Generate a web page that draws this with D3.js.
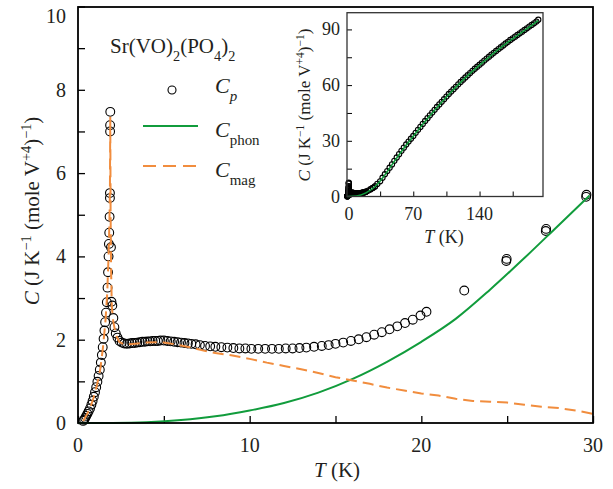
<!DOCTYPE html>
<html>
<head>
<meta charset="utf-8">
<script src="https://cdn.jsdelivr.net/npm/d3@7"></script>
</head>
<body style="margin:0">
<script>
// measured heat capacity, low T (K, J/K/mol)
var cpT = [0.30, 0.36, 0.42, 0.48, 0.55, 0.62, 0.70, 0.78, 0.85, 0.92, 0.99, 1.06, 1.13, 1.20, 1.27,
  1.33, 1.39, 1.44, 1.49, 1.54, 1.58, 1.63, 1.68, 1.72, 1.75, 1.78, 1.80, 1.82, 1.84, 1.86, 1.86,
  1.87, 1.87, 1.88, 1.92, 1.95, 2.00, 2.06, 2.12, 2.20, 2.30, 2.42, 2.55, 2.70, 2.85, 3.00, 3.15,
  3.30, 3.45, 3.60, 3.75, 3.90, 4.05, 4.20, 4.35, 4.50, 4.65, 4.80, 5.00, 5.20, 5.40, 5.60, 5.80,
  6.00, 6.20, 6.40, 6.60, 6.85, 7.10, 7.40, 7.70, 8.00, 8.35, 8.70, 9.05, 9.40, 9.75, 10.1, 10.5,
  10.9, 11.3, 11.7, 12.1, 12.5, 12.9, 13.3, 13.75, 14.2, 14.6, 15.0, 15.45, 15.9, 16.35, 16.8,
  17.25, 17.7, 18.15, 18.6, 19.05, 19.5, 19.95, 20.3, 22.5, 24.95, 24.97, 27.25, 27.27, 29.6, 29.62];
var cpC = [0.05, 0.08, 0.12, 0.17, 0.22, 0.28, 0.35, 0.44, 0.53, 0.63, 0.74, 0.86, 0.99, 1.13, 1.28,
  1.45, 1.63, 1.82, 2.02, 2.22, 2.42, 2.65, 2.90, 3.25, 3.62, 4.00, 4.30, 4.57, 4.95, 5.40, 5.52,
  7.00, 7.15, 7.47, 4.22, 2.91, 2.82, 2.52, 2.30, 2.15, 2.05, 1.97, 1.93, 1.91, 1.90, 1.91, 1.92,
  1.92, 1.93, 1.94, 1.95, 1.95, 1.96, 1.96, 1.97, 1.97, 1.97, 1.98, 1.98, 1.97, 1.96, 1.95, 1.94,
  1.93, 1.92, 1.91, 1.90, 1.89, 1.87, 1.85, 1.84, 1.83, 1.82, 1.81, 1.80, 1.79, 1.79, 1.78, 1.78,
  1.78, 1.78, 1.78, 1.79, 1.79, 1.80, 1.81, 1.83, 1.85, 1.87, 1.90, 1.93, 1.97, 2.01, 2.06,
  2.12, 2.18, 2.25, 2.32, 2.40, 2.48, 2.58, 2.67, 3.18, 3.89, 3.94, 4.61, 4.66, 5.43, 5.48];

// phonon contribution
var phonT = [0, 2, 4, 6, 8, 10, 12, 14, 16, 18, 20, 22, 24, 26, 28, 29.8];
var phonC = [0, 0.003, 0.02, 0.07, 0.16, 0.3, 0.48, 0.73, 1.06, 1.47, 1.95, 2.5, 3.2, 3.96, 4.75, 5.46];

// magnetic contribution
var magT = [0.3, 0.5, 0.7, 0.9, 1.1, 1.3, 1.45, 1.6, 1.7, 1.78, 1.83, 1.86, 1.88, 1.9, 1.93, 1.97,
  2.05, 2.2, 2.4, 2.7, 3.0, 3.5, 4.0, 4.5, 5.0, 5.5, 6.0, 6.5, 7.0, 7.5, 8.0, 9.0, 10, 11, 12, 13,
  14, 15, 16, 17, 18, 19, 20, 21, 22, 23, 24, 25, 26, 27, 28, 29, 30];
var magC = [0.05, 0.19, 0.35, 0.6, 0.9, 1.3, 1.8, 2.45, 3.1, 4.0, 4.8, 5.6, 7.35, 5.0, 3.6, 2.8,
  2.45, 2.12, 1.95, 1.88, 1.89, 1.91, 1.93, 1.94, 1.93, 1.9, 1.86, 1.82, 1.77, 1.72, 1.68, 1.62,
  1.54, 1.45, 1.37, 1.29, 1.2, 1.1, 1.02, 0.94, 0.85, 0.78, 0.71, 0.66, 0.58, 0.53, 0.51, 0.49,
  0.44, 0.39, 0.36, 0.3, 0.22];

// inset: high T data
var hiT = [32, 35, 37.5, 40, 42.5, 45, 47.5, 50, 52.5, 55, 57.5, 60, 62.5, 65, 67.5, 70, 72.5, 75,
  77.5, 80, 82.5, 85, 87.5, 90, 92.5, 95, 97.5, 100, 102.5, 105, 107.5, 110, 112.5, 115, 117.5, 120,
  122.5, 125, 127.5, 130, 132.5, 135, 137.5, 140, 142.5, 145, 147.5, 150, 152.5, 155, 157.5, 160,
  162.5, 165, 167.5, 170, 172.5, 175, 177.5, 180, 182.5, 185, 187.5, 190, 192.5, 195, 197.5, 200, 202];
var hiC = [6.8, 8.2, 10.1, 12.0, 13.7, 15.5, 17.3, 19.2, 21.0, 22.8, 24.6, 26.3, 28.0, 29.6, 31.1,
  32.6, 34.3, 35.9, 37.5, 39.1, 40.7, 42.2, 43.7, 45.2, 46.7, 48.2, 49.6, 51.0, 52.4, 53.8, 55.2,
  56.5, 57.8, 59.1, 60.4, 61.7, 62.9, 64.1, 65.3, 66.5, 67.7, 68.8, 69.9, 71.0, 72.1, 73.2, 74.3,
  75.3, 76.4, 77.4, 78.4, 79.4, 80.4, 81.4, 82.4, 83.3, 84.3, 85.2, 86.1, 87.0, 87.9, 88.8, 89.7,
  90.6, 91.5, 92.4, 93.3, 94.2, 95.2];
var inPhonT = [0, 10, 20, 30, 40, 50, 60, 70, 80, 90, 100, 110, 120, 130, 140, 150, 160, 170, 180, 190, 200, 202];
var inPhonC = [0, 0.3, 1.95, 5.5, 11.6, 18.9, 26.0, 32.4, 38.9, 45.0, 50.8, 56.3, 61.5, 66.3, 70.8,
  75.1, 79.2, 83.1, 86.8, 90.4, 94.0, 94.8];

var xTicks = [0, 10, 20, 30];
var yTicks = [0, 2, 4, 6, 8, 10];
var inXTicks = [0, 70, 140];
var inYTicks = [0, 30, 60, 90];

var width = 613, height = 489;
var green = "#119c3c", orange = "#f18d3e";
var INK = "#231f20";

var svg = d3.select("body").append("svg")
  .attr("width", width)
  .attr("height", height);

var x = d3.scaleLinear().domain([0, 30]).range([78, 593]);
var y = d3.scaleLinear().domain([0, 10]).range([423, 6.5]);

function zip(a, b) {
  return a.map(function(v, i) { return [v, b[i]]; });
}

// every text gets the serif face directly
function txt(parent, size) {
  return parent.append("text")
    .attr("font-size", size)
    .attr("fill", INK)
    .attr("font-family", "serif")
    .style("font-family", "serif");
}

// rich text helper: segments [text, italic, shift(1 sup / -1 sub)]
function rich(sel, segs) {
  var size = +sel.attr("font-size");
  segs.forEach(function(s) {
    var t = sel.append("tspan").text(s[0]);
    if (s[1]) t.style("font-style", "italic");
    if (s[2] === 1) t.attr("baseline-shift", "super").attr("font-size", size * 0.68);
    if (s[2] === -1) t.attr("baseline-shift", "sub").attr("font-size", size * 0.68);
  });
  return sel;
}

var yLabelSegs = [["C", true], [" (J K"], ["\u22121", false, 1], [" (mole V"], ["+4", false, 1], [")"], ["\u22121", false, 1], [")"]];

// ticks drawn by d3 axes, labels written as own texts
function styleAxis(g) {
  g.select(".domain").remove();
  g.attr("font-family", null).attr("font-size", null);
  g.selectAll("line").attr("stroke", "#000").attr("stroke-width", 1.3);
  g.selectAll("text").remove();
}

var gx = svg.append("g")
  .attr("transform", "translate(0,423)")
  .call(d3.axisBottom(x).tickValues(d3.range(0, 31, 5)).tickSizeInner(-7).tickSizeOuter(0));
styleAxis(gx);
var gy = svg.append("g")
  .attr("transform", "translate(78,0)")
  .call(d3.axisLeft(y).tickValues(d3.range(0, 11, 1)).tickSizeInner(-7).tickSizeOuter(0));
styleAxis(gy);

xTicks.forEach(function(d) {
  txt(svg, 20).attr("x", x(d)).attr("y", 452).attr("text-anchor", "middle").text(d);
});
yTicks.forEach(function(d) {
  txt(svg, 20).attr("x", 66).attr("y", d === 10 ? y(d) + 16 : y(d) + 7)
    .attr("text-anchor", "end").text(d);
});

// data: circles
svg.append("g").selectAll("circle")
  .data(zip(cpT, cpC))
  .enter().append("circle")
  .attr("cx", function(d) { return x(d[0]); })
  .attr("cy", function(d) { return y(d[1]); })
  .attr("r", 4.4)
  .attr("fill", "none")
  .attr("stroke", "#000")
  .attr("stroke-width", 1.1);

var line = d3.line()
  .x(function(d) { return x(d[0]); })
  .y(function(d) { return y(d[1]); });

svg.append("path")
  .datum(zip(phonT, phonC))
  .attr("d", line.curve(d3.curveMonotoneX))
  .attr("fill", "none").attr("stroke", green).attr("stroke-width", 2);

svg.append("path")
  .datum(zip(magT, magC))
  .attr("d", line.curve(d3.curveLinear))
  .attr("fill", "none").attr("stroke", orange).attr("stroke-width", 2)
  .attr("stroke-dasharray", "11,6");

// frame
svg.append("rect")
  .attr("x", 78).attr("y", 7).attr("width", 515).attr("height", 416)
  .attr("fill", "none").attr("stroke", "#000").attr("stroke-width", 1.8);

// axis labels
rich(txt(svg, 21).attr("x", 337).attr("y", 477).attr("text-anchor", "middle"),
  [["T", true], [" (K)"]]);
rich(txt(svg, 21).attr("transform", "translate(39,211) rotate(-90)").attr("text-anchor", "middle"),
  yLabelSegs);

// legend
rich(txt(svg, 21).attr("x", 110).attr("y", 53),
  [["Sr(VO)"], ["2", false, -1], ["(PO"], ["4", false, -1], [")"], ["2", false, -1]]);

svg.append("circle").attr("cx", 172).attr("cy", 90).attr("r", 4)
  .attr("fill", "none").attr("stroke", "#000").attr("stroke-width", 1.1);
rich(txt(svg, 22).attr("x", 215).attr("y", 93), [["C", true], ["p", true, -1]]);

svg.append("line").attr("x1", 143).attr("x2", 198).attr("y1", 126).attr("y2", 126)
  .attr("stroke", green).attr("stroke-width", 2);
rich(txt(svg, 22).attr("x", 215).attr("y", 137), [["C", true], ["phon", false, -1]]);

svg.append("line").attr("x1", 143).attr("x2", 198).attr("y1", 166).attr("y2", 166)
  .attr("stroke", orange).attr("stroke-width", 2).attr("stroke-dasharray", "13,7");
rich(txt(svg, 22).attr("x", 215).attr("y", 177), [["C", true], ["mag", false, -1]]);

// inset
var xi = d3.scaleLinear().domain([0, 207]).range([347, 543]);
var yi = d3.scaleLinear().domain([0, 99]).range([196.5, 12.7]);
var inset = svg.append("g");

var gxi = inset.append("g")
  .attr("transform", "translate(0,196.5)")
  .call(d3.axisBottom(xi).tickValues(d3.range(0, 176, 35)).tickSizeInner(-5).tickSizeOuter(0));
styleAxis(gxi);
var gyi = inset.append("g")
  .attr("transform", "translate(347,0)")
  .call(d3.axisLeft(yi).tickValues(d3.range(0, 91, 15)).tickSizeInner(-5).tickSizeOuter(0));
styleAxis(gyi);
inset.selectAll("line").attr("stroke-width", 1);

inXTicks.forEach(function(d) {
  txt(inset, 18).attr("x", xi(d) + (d === 0 ? 2 : 0)).attr("y", 220).attr("text-anchor", "middle").text(d);
});
inYTicks.forEach(function(d) {
  txt(inset, 18).attr("x", 340).attr("y", yi(d) + 6).attr("text-anchor", "end").text(d);
});

var inPts = zip(cpT, cpC).concat(zip(hiT, hiC));
inset.append("g").selectAll("circle")
  .data(inPts)
  .enter().append("circle")
  .attr("cx", function(d) { return xi(d[0]); })
  .attr("cy", function(d) { return yi(d[1]); })
  .attr("r", 2.6)
  .attr("fill", "none")
  .attr("stroke", "#000")
  .attr("stroke-width", 1.1);

inset.append("path")
  .datum(zip(inPhonT, inPhonC))
  .attr("d", d3.line()
    .x(function(d) { return xi(d[0]); })
    .y(function(d) { return yi(d[1]); })
    .curve(d3.curveMonotoneX))
  .attr("fill", "none").attr("stroke", green).attr("stroke-width", 1.6);

inset.append("rect")
  .attr("x", 347).attr("y", 12.7).attr("width", 196).attr("height", 183.8)
  .attr("fill", "none").attr("stroke", "#333").attr("stroke-width", 1.3);

rich(txt(inset, 18).attr("x", 444).attr("y", 243).attr("text-anchor", "middle"),
  [["T", true], [" (K)"]]);
rich(txt(inset, 17).attr("transform", "translate(310,105) rotate(-90)").attr("text-anchor", "middle"),
  yLabelSegs);
</script>
</body>
</html>
